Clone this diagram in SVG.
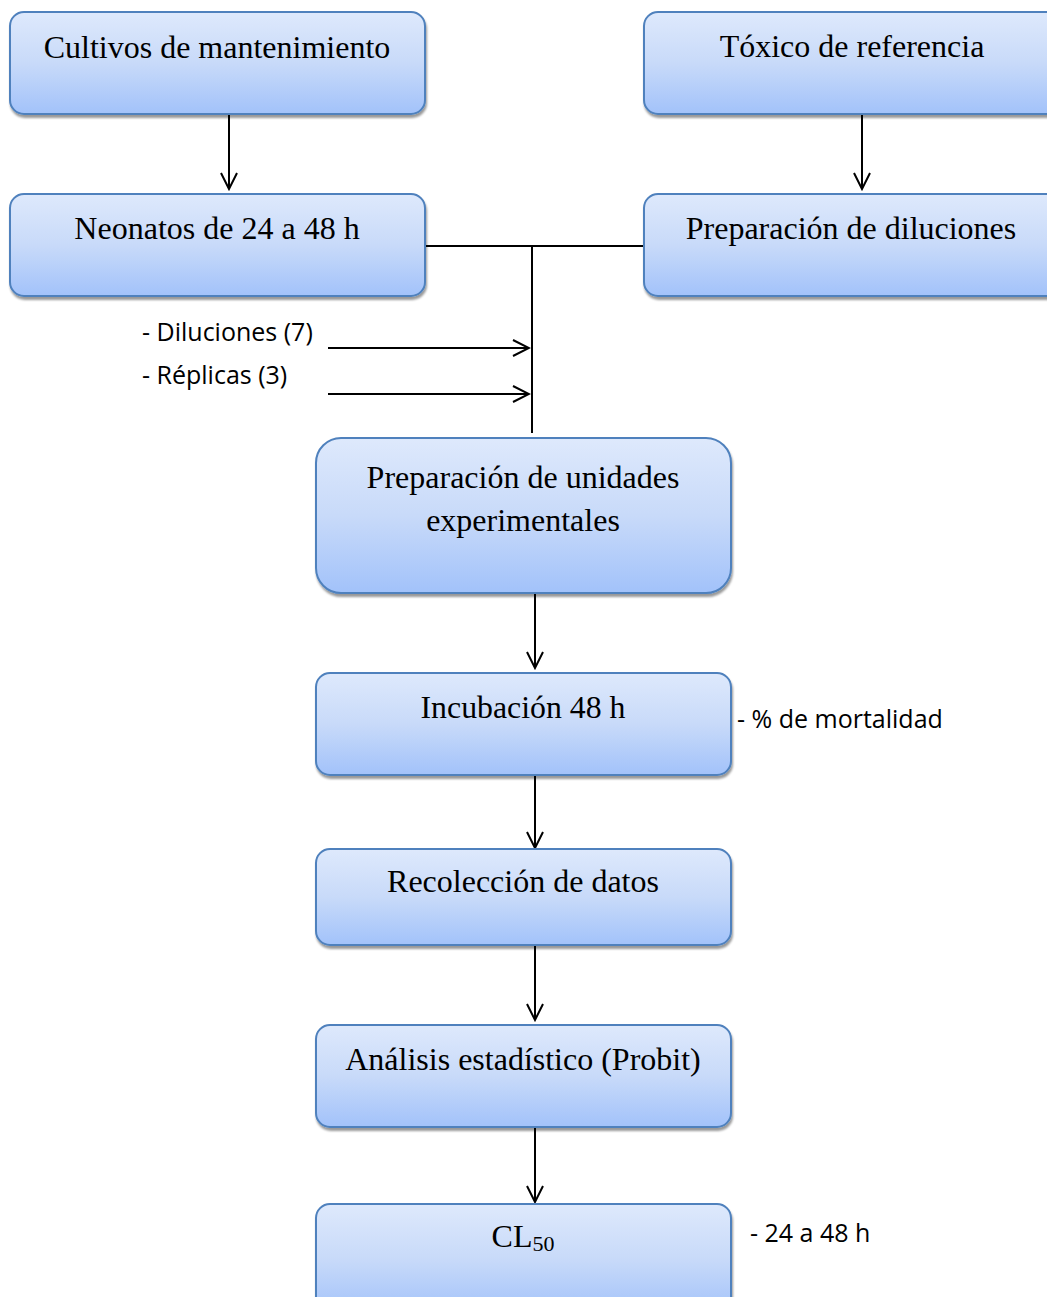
<svg xmlns="http://www.w3.org/2000/svg" width="1047" height="1297" viewBox="0 0 1047 1297">
  <style>
    .box { fill: url(#boxFill); stroke: #4f81bd; stroke-width: 2; filter: url(#shadow); }
    .t { font-family: "Liberation Serif", "Times New Roman", serif; font-size: 32px; fill: #000; text-anchor: middle; }
    .note { font-family: "Open Sans", "Liberation Sans", sans-serif; font-size: 25px; fill: #000; }
    .wire { stroke: #000; stroke-width: 2; fill: none; }
    .arrow { stroke: #000; stroke-width: 2; fill: none; marker-end: url(#vhead); }
  </style>
  <defs>
    <linearGradient id="boxFill" x1="0" y1="0" x2="0" y2="1">
      <stop offset="0" stop-color="#dee9fc"/>
      <stop offset="0.5" stop-color="#c8daf9"/>
      <stop offset="1" stop-color="#a2c2fa"/>
    </linearGradient>
    <filter id="shadow" x="-5%" y="-5%" width="110%" height="115%">
      <feDropShadow dx="1" dy="3" stdDeviation="1.2" flood-color="#000" flood-opacity="0.4"/>
    </filter>
    <marker id="vhead" viewBox="0 0 20 20" refX="18" refY="10" markerWidth="20" markerHeight="20" markerUnits="userSpaceOnUse" orient="auto">
      <path d="M2,2 L18,10 L2,18" fill="none" stroke="#000" stroke-width="2"/>
    </marker>
  </defs>
  <rect width="1047" height="1297" fill="#fff"/>

  <g id="connectors">
    <line class="arrow" x1="229" y1="114" x2="229" y2="189"/>
    <line class="arrow" x1="862" y1="114" x2="862" y2="189"/>
    <line class="wire" x1="425" y1="246" x2="644" y2="246"/>
    <line class="wire" x1="532" y1="246" x2="532" y2="433"/>
    <line class="arrow" x1="328" y1="348" x2="529" y2="348"/>
    <line class="arrow" x1="328" y1="394" x2="529" y2="394"/>
    <line class="arrow" x1="535" y1="593" x2="535" y2="668"/>
    <line class="arrow" x1="535" y1="775" x2="535" y2="848"/>
    <line class="arrow" x1="535" y1="945" x2="535" y2="1020"/>
    <line class="arrow" x1="535" y1="1127" x2="535" y2="1202"/>
  </g>

  <g id="cultivos">
    <rect class="box" x="10" y="12" width="415" height="102" rx="14"/>
    <text class="t" x="217" y="58">Cultivos de mantenimiento</text>
  </g>
  <g id="toxico">
    <rect class="box" x="644" y="12" width="420" height="102" rx="14"/>
    <text class="t" x="852" y="57">Tóxico de referencia</text>
  </g>
  <g id="neonatos">
    <rect class="box" x="10" y="194" width="415" height="102" rx="14"/>
    <text class="t" x="217" y="239">Neonatos de 24 a 48 h</text>
  </g>
  <g id="diluciones">
    <rect class="box" x="644" y="194" width="420" height="102" rx="14"/>
    <text class="t" x="851" y="239">Preparación de diluciones</text>
  </g>
  <g id="unidades">
    <rect class="box" x="316" y="438" width="415" height="155" rx="25"/>
    <text class="t" x="523" y="488">Preparación de unidades</text>
    <text class="t" x="523" y="531">experimentales</text>
  </g>
  <g id="incubacion">
    <rect class="box" x="316" y="673" width="415" height="102" rx="14"/>
    <text class="t" x="523" y="718" textLength="205" lengthAdjust="spacingAndGlyphs">Incubación 48 h</text>
  </g>
  <g id="recoleccion">
    <rect class="box" x="316" y="849" width="415" height="96" rx="14"/>
    <text class="t" x="523" y="892">Recolección de datos</text>
  </g>
  <g id="analisis">
    <rect class="box" x="316" y="1025" width="415" height="102" rx="14"/>
    <text class="t" x="523" y="1070">Análisis estadístico (Probit)</text>
  </g>
  <g id="cl50">
    <rect class="box" x="316" y="1204" width="415" height="110" rx="14"/>
    <text class="t" x="523" y="1247">CL<tspan font-size="22" dy="4">50</tspan></text>
  </g>

  <g id="notes">
    <text class="note" x="142" y="341">- Diluciones (7)</text>
    <text class="note" x="142" y="384">- Réplicas (3)</text>
    <text class="note" x="737" y="728">- % de mortalidad</text>
    <text class="note" x="750" y="1242">- 24 a 48 h</text>
  </g>
</svg>
